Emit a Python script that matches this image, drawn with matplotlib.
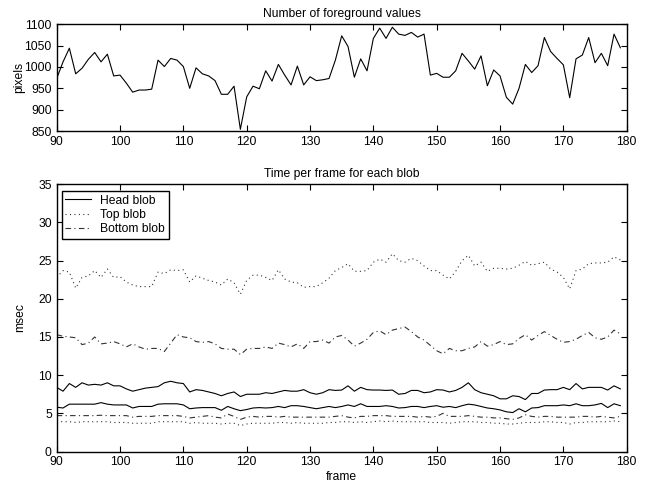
import matplotlib
matplotlib.use("Agg")
import matplotlib.pyplot as plt
import numpy as np

plt.rcParams['font.family'] = ['Liberation Sans', 'DejaVu Sans']
plt.rcParams['font.size'] = 8.7

frames = list(range(90, 180))

foreground = [973, 1012, 1044, 984, 997, 1018, 1034, 1012, 1030, 979,
              981, 962, 941, 946, 946, 948, 1016, 1001, 1020, 1016,
              1001, 950, 998, 984, 979, 968, 936, 936, 955, 854,
              930, 955, 949, 991, 967, 1006, 981, 958, 1002, 958,
              977, 968, 970, 973, 1016, 1073, 1048, 976, 1019, 991,
              1067, 1091, 1067, 1093, 1077, 1074, 1081, 1070, 1077, 981,
              985, 976, 976, 991, 1032, 1014, 995, 1026, 956, 993,
              979, 929, 913, 950, 1006, 987, 1003, 1069, 1036, 1020,
              1005, 928, 1019, 1028, 1069, 1010, 1032, 1003, 1077, 1045]

head_upper = [8.4, 7.9, 8.9, 8.4, 9.0, 8.7, 8.8, 8.7, 9.0, 8.6,
              8.6, 8.2, 7.9, 8.1, 8.3, 8.4, 8.5, 9.0, 9.2, 9.0,
              8.9, 7.8, 8.1, 8.0, 7.8, 7.6, 7.3, 7.6, 7.8, 7.2,
              7.5, 7.5, 7.5, 7.7, 7.6, 7.8, 8.0, 7.9, 7.9, 8.1,
              7.7, 7.5, 7.7, 8.1, 8.0, 8.05, 8.6, 7.9, 8.4, 8.1,
              8.05, 8.05, 8.0, 8.05, 7.5, 7.6, 8.0, 8.0, 7.7, 7.8,
              8.1, 8.05, 7.8, 8.0, 8.4, 9.0, 8.1, 7.7, 7.5, 7.3,
              6.9, 6.9, 7.3, 7.2, 6.8, 7.6, 7.6, 8.05, 8.1, 8.1,
              8.4, 8.1, 8.9, 8.2, 8.4, 8.4, 8.4, 8.05, 8.6, 8.2]

head_lower = [5.8, 5.7, 6.2, 6.2, 6.2, 6.2, 6.2, 6.4, 6.2, 6.1,
              6.1, 6.1, 5.7, 5.9, 5.9, 5.9, 6.2, 6.25, 6.25, 6.25,
              6.1, 5.6, 5.7, 5.75, 5.75, 5.75, 5.4, 5.9, 5.6, 5.35,
              5.5, 5.7, 5.75, 5.7, 5.75, 5.9, 5.75, 6.0, 6.0, 5.9,
              5.75, 5.6, 5.75, 5.9, 5.75, 5.9, 6.1, 5.9, 6.25, 5.9,
              5.9, 5.9, 6.0, 5.9, 5.7, 5.75, 5.9, 5.9, 5.75, 5.9,
              6.0, 5.8, 5.9, 5.75, 6.0, 6.2, 6.1, 5.9, 5.7, 5.6,
              5.45, 5.2, 5.1, 5.6, 5.2, 5.7, 5.75, 6.0, 6.0, 6.0,
              6.1, 6.0, 6.25, 6.0, 6.0, 6.1, 6.3, 5.75, 6.25, 6.0]

top_upper = [22.8, 23.7, 23.5, 21.4, 22.8, 23.0, 23.7, 22.8, 23.9, 22.8,
             22.9, 22.2, 21.8, 21.6, 21.6, 21.6, 23.5, 23.3, 23.8, 23.7,
             23.8, 22.2, 23.0, 22.7, 22.4, 22.2, 21.8, 22.6, 22.1, 20.6,
             22.4, 23.1, 23.1, 22.8, 22.4, 23.8, 22.6, 22.2, 22.1, 21.5,
             21.6, 21.6, 22.1, 22.7, 23.7, 24.1, 24.6, 23.6, 23.6, 23.7,
             24.8, 25.2, 24.8, 25.9, 25.0, 24.8, 25.3, 25.0, 24.3, 23.7,
             23.7, 23.1, 22.6, 23.6, 25.0, 25.7, 24.3, 24.8, 23.6, 24.0,
             24.0, 23.9, 24.0, 24.4, 24.9, 24.4, 24.6, 24.8, 23.9, 23.5,
             22.8, 21.3, 23.7, 23.9, 24.6, 24.7, 24.7, 24.8, 25.5, 25.1]

top_lower = [3.9, 3.9, 3.9, 3.8, 3.9, 3.9, 3.9, 3.9, 3.9, 3.8,
             3.8, 3.8, 3.7, 3.7, 3.7, 3.7, 3.9, 3.9, 3.9, 3.9,
             3.9, 3.7, 3.8, 3.7, 3.7, 3.7, 3.6, 3.7, 3.7, 3.4,
             3.6, 3.7, 3.7, 3.7, 3.7, 3.8, 3.8, 3.7, 3.8, 3.7,
             3.7, 3.7, 3.7, 3.8, 3.8, 3.9, 3.9, 3.8, 3.9, 3.8,
             3.9, 4.0, 3.9, 4.0, 3.9, 3.9, 3.9, 3.9, 3.9, 3.8,
             3.8, 3.8, 3.7, 3.8, 3.9, 3.9, 3.9, 3.8, 3.8, 3.7,
             3.7, 3.6, 3.6, 3.7, 3.8, 3.8, 3.8, 3.9, 3.9, 3.8,
             3.8, 3.6, 3.8, 3.8, 3.9, 3.9, 3.9, 3.9, 4.0, 3.9]

bottom_upper = [15.3, 15.1, 15.0, 14.9, 14.0, 14.2, 15.0, 14.1, 14.2, 14.4,
                14.1, 13.7, 14.1, 13.7, 13.4, 13.5, 13.5, 13.1, 14.2, 15.3,
                15.0, 14.9, 14.4, 14.3, 14.4, 14.1, 13.5, 13.4, 13.4, 12.7,
                13.4, 13.5, 13.5, 13.7, 13.5, 14.2, 14.0, 13.7, 14.1, 13.5,
                14.4, 14.4, 14.6, 14.2, 15.0, 15.2, 14.6, 13.8, 14.2, 14.7,
                15.6, 15.8, 15.3, 15.9, 16.1, 16.3, 15.7, 15.0, 14.6, 13.9,
                13.2, 12.8, 13.5, 13.2, 13.2, 13.5, 13.7, 14.4, 13.8, 14.0,
                14.4, 14.0, 14.1, 14.8, 15.3, 14.6, 15.2, 15.7, 15.2, 14.7,
                14.3, 14.4, 14.7, 15.2, 15.6, 14.9, 14.7, 15.0, 15.9, 15.4]

bottom_lower = [4.7, 4.7, 4.7, 4.7, 4.7, 4.7, 4.7, 4.75, 4.7, 4.7,
                4.7, 4.7, 4.5, 4.6, 4.6, 4.6, 4.7, 4.7, 4.7, 4.7,
                4.6, 4.4, 4.5, 4.6, 4.7, 4.5, 4.4, 4.9, 4.6, 4.2,
                4.5, 4.6, 4.5, 4.6, 4.6, 4.5, 4.6, 4.5, 4.5, 4.5,
                4.5, 4.5, 4.5, 4.5, 4.6, 4.7, 4.5, 4.4, 4.6, 4.6,
                4.7, 4.7, 4.7, 4.6, 4.6, 4.6, 4.6, 4.5, 4.6, 4.5,
                4.6, 5.0, 4.6, 4.6, 4.6, 4.7, 4.6, 4.5, 4.5, 4.4,
                4.4, 4.3, 4.2, 4.4, 4.8, 4.6, 4.5, 4.6, 4.6, 4.5,
                4.5, 4.5, 4.5, 4.6, 4.6, 4.5, 4.6, 4.5, 4.4, 4.6]

x_ticks = list(range(90, 181, 10))
top_yticks = [850, 900, 950, 1000, 1050, 1100]
bottom_yticks = [0, 5, 10, 15, 20, 25, 30, 35]
legend_labels = ['Head blob', 'Top blob', 'Bottom blob']

fig = plt.figure(figsize=(6.47, 4.87), dpi=100)
W, H = 647, 487
FS = 8.7

def px_axes(left, top, right, bottom):
    return fig.add_axes([left / W, 1 - bottom / H, (right - left) / W, (bottom - top) / H])

def style(ax):
    ax.tick_params(direction='in', top=True, right=True, length=4, width=0.8,
                   labelsize=FS, pad=3.5, colors='black')
    for s in ax.spines.values():
        s.set_linewidth(1.0)
        s.set_color('black')

lw = 0.8
dotted = (0, (1, 3))
dashdot = (0, (5, 3, 1, 3))
light = '#333333'

ax1 = px_axes(56.7, 24.3, 626.7, 131)
ax1.plot(frames, foreground, color='black', lw=lw)
ax1.set_xlim(90, 180)
ax1.set_ylim(850, 1100)
ax1.set_xticks(x_ticks)
ax1.set_yticks(top_yticks)
ax1.set_ylabel('pixels', fontsize=FS)
ax1.yaxis.set_label_coords((19 - 56.7) / 570, 0.5)
ax1.yaxis.label.set_va('center')
ax1.set_title('Number of foreground values', fontsize=FS, pad=5)
style(ax1)

ax2 = px_axes(56.7, 184.3, 626.7, 451.5)
h1, = ax2.plot(frames, head_upper, color='black', lw=lw, ls='-')
ax2.plot(frames, head_lower, color='black', lw=lw, ls='-')
h2, = ax2.plot(frames, top_upper, color=light, lw=lw, ls=dotted)
ax2.plot(frames, top_lower, color=light, lw=lw, ls=dotted)
h3, = ax2.plot(frames, bottom_upper, color=light, lw=lw, ls=dashdot)
ax2.plot(frames, bottom_lower, color=light, lw=lw, ls=dashdot)
ax2.set_xlim(90, 180)
ax2.set_ylim(0, 35)
ax2.set_xticks(x_ticks)
ax2.set_yticks(bottom_yticks)
ax2.set_xlabel('frame', fontsize=FS)
ax2.xaxis.set_label_coords(0.5, (451.5 - 477) / 267.2)
ax2.xaxis.label.set_va('center')
ax2.set_ylabel('msec', fontsize=FS)
ax2.yaxis.set_label_coords((20 - 56.7) / 570, 0.5)
ax2.yaxis.label.set_va('center')
ax2.set_title('Time per frame for each blob', fontsize=FS, pad=5)
style(ax2)

leg = ax2.legend([h1, h2, h3], legend_labels, loc='upper left',
                 bbox_to_anchor=(0.009, 0.975), borderaxespad=0,
                 fancybox=False, framealpha=1, edgecolor='black',
                 fontsize=FS, handlelength=2.1, handletextpad=0.8,
                 labelspacing=0.2, borderpad=0.3)
leg.get_frame().set_linewidth(1.0)

fig.savefig('out.png', dpi=100)
